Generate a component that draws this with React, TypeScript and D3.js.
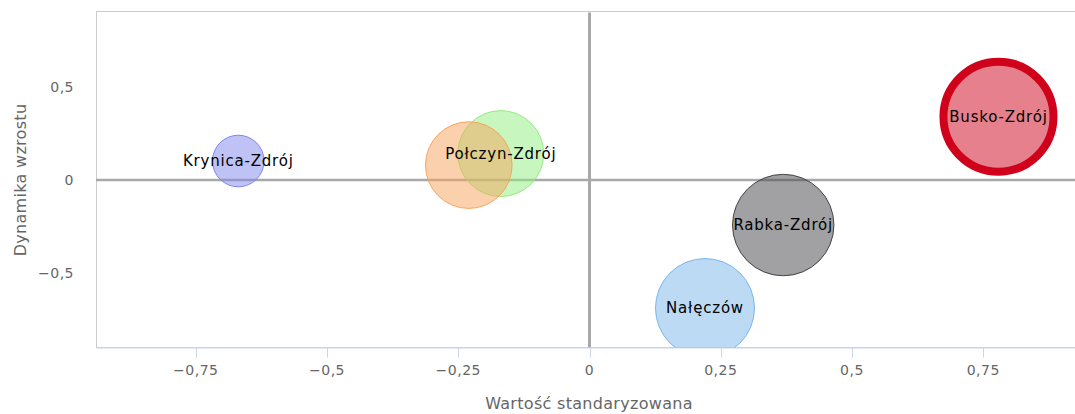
import * as d3 from "d3";

const names = ["Krynica-Zdrój", "", "Połczyn-Zdrój", "Rabka-Zdrój", "Nałęczów", "Busko-Zdrój"];
const xValues = [-0.669, -0.23, -0.169, 0.369, 0.22, 0.779];
const yValues = [0.102, 0.08, 0.142, -0.242, -0.688, 0.34];
const zValues = [22, 62, 61, 85, 81, 100];
const colors = ["#8085e9", "#f7a35c", "#90ed7d", "#434348", "#7cb5ec", "#d0021b"];
const highlighted = [false, false, false, false, false, true];
const xTicks = [-0.75, -0.5, -0.25, 0, 0.25, 0.5, 0.75];
const yTicks = [-0.5, 0, 0.5];

const W = 1075;
const H = 414;
const left = 96;
const right = 1083;
const top = 12.5;
const bottom = 347.5;

const fmt = d3.formatLocale({ decimal: ",", thousands: " ", grouping: [3], currency: ["", ""], minus: "\u2212" }).format(".2~f");

export default function App() {
  const x = d3.scaleLinear().domain([-0.94, 0.94]).range([left, right]);
  const y = d3.scaleLinear().domain([-0.9, 0.9]).range([bottom, top]);
  const r = d3.scaleSqrt().domain([0, d3.max(zValues) as number]).range([0, 55]);

  const order = [0, 2, 1, 3, 4, 5];
  const font = "'DejaVu Sans', sans-serif";

  return (
    <svg width={W} height={H} style={{ position: "absolute", left: 0, top: 0, display: "block" }} fontFamily={font}>
      <defs>
        <clipPath id="plot">
          <rect x={left} y={top} width={right - left} height={bottom - top} />
        </clipPath>
      </defs>
      <rect x={0} y={0} width={W} height={H} fill="#fff" />
      {/* plot border */}
      <rect x={left + 0.5} y={top - 1} width={right - left} height={bottom - top + 1} fill="none" stroke="#cccccc" strokeWidth={1} />
      {/* zero lines */}
      <line x1={x(0)} x2={x(0)} y1={top} y2={bottom} stroke="#a8a8a8" strokeWidth={3} />
      <line x1={left} x2={right} y1={y(0)} y2={y(0)} stroke="#a8a8a8" strokeWidth={2.5} />
      {/* x axis */}
      <line x1={left} x2={right} y1={bottom + 0.5} y2={bottom + 0.5} stroke="#ccd6eb" strokeWidth={1} />
      {xTicks.map((t) => (
        <g key={t}>
          <line x1={Math.round(x(t)) + 0.5} x2={Math.round(x(t)) + 0.5} y1={bottom} y2={bottom + 10} stroke="#ccd6eb" strokeWidth={1} />
          <text x={x(t)} y={375} textAnchor="middle" fontSize={14} letterSpacing={0.5} fill="#666666">{fmt(t)}</text>
        </g>
      ))}
      {yTicks.map((t) => (
        <text key={t} x={74} y={y(t) + 5} textAnchor="end" fontSize={14} letterSpacing={0.5} fill="#666666">{fmt(t)}</text>
      ))}
      <text x={589} y={409} textAnchor="middle" fontSize={16} letterSpacing={0.3} fill="#666666">Wartość standaryzowana</text>
      <text transform={`translate(26,${(top + bottom) / 2}) rotate(-90)`} textAnchor="middle" fontSize={16} letterSpacing={0.3} fill="#666666">Dynamika wzrostu</text>
      {/* bubbles */}
      <g clipPath="url(#plot)">
        {order.map((i) => (
          <circle
            key={i}
            cx={x(xValues[i])}
            cy={y(yValues[i])}
            r={r(zValues[i])}
            fill={colors[i]}
            fillOpacity={0.5}
            stroke={colors[i]}
            strokeWidth={highlighted[i] ? 8 : 1}
          />
        ))}
      </g>
      {order.map((i) =>
        names[i] ? (
          <text key={"l" + i} x={x(xValues[i])} y={y(yValues[i])} dy="0.35em" textAnchor="middle" fontSize={15} letterSpacing={0.8} fill="#000">
            {names[i]}
          </text>
        ) : null
      )}
    </svg>
  );
}
